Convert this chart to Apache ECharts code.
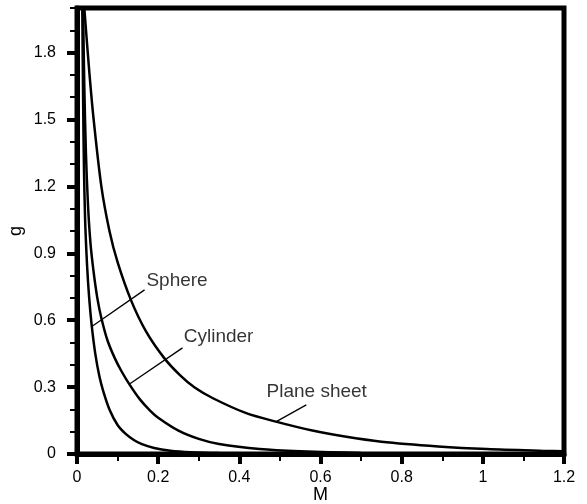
<!DOCTYPE html>
<html>
<head>
<meta charset="utf-8">
<script src="https://cdn.jsdelivr.net/npm/echarts@6/dist/echarts.min.js"></script>
<style>html,body{margin:0;padding:0;background:#fff}#c{width:587px;height:504px}</style>
</head>
<body>
<div id="c"></div>
<script>
// Data
var planeM = [0.018,0.03,0.041,0.06,0.08,0.1,0.133,0.17,0.215,0.253,0.29,0.335,0.417,0.49,0.58,0.66,0.75,0.89,1.01,1.15,1.2];
var planeG = [2.0,1.72,1.5,1.2,1.0,0.86,0.69,0.55,0.43,0.355,0.298,0.25,0.183,0.145,0.105,0.078,0.055,0.034,0.022,0.014,0.012];
var cylM = [0.015,0.018,0.022,0.027,0.033,0.04,0.05,0.06,0.075,0.093,0.11,0.13,0.155,0.18,0.2,0.25,0.3,0.35,0.45,0.55,0.7,0.9,1.2];
var cylG = [2.0,1.65,1.35,1.12,0.95,0.83,0.70,0.61,0.51,0.43,0.37,0.31,0.245,0.195,0.163,0.105,0.068,0.045,0.022,0.012,0.005,0.002,0.0];
var sphM = [0.013,0.015,0.017,0.02,0.025,0.03,0.036,0.045,0.055,0.065,0.08,0.1,0.12,0.14,0.16,0.19,0.23,0.28,0.35,0.5,0.7,1.2];
var sphG = [2.0,1.6,1.3,1.05,0.84,0.70,0.58,0.45,0.35,0.28,0.20,0.13,0.09,0.063,0.044,0.027,0.015,0.008,0.004,0.001,0.0,0.0];

var xTicks = [0,0.2,0.4,0.6,0.8,1,1.2];
var yTicks = [0,0.3,0.6,0.9,1.2,1.5,1.8];
var yMinorTicks = [0.1,0.2,0.4,0.5,0.7,0.8,1.0,1.1,1.3,1.4,1.6,1.7,1.9,2.0];

var labelNames = ['Sphere','Cylinder','Plane sheet'];
var labelM = [0.171,0.263,0.467];
var labelG = [0.777,0.525,0.278];
var leaderFromM = [0.1665,0.26,0.565];
var leaderFromG = [0.736,0.476,0.22];
var leaderToM = [0.0365,0.1295,0.491];
var leaderToG = [0.572,0.314,0.145];

function pairs(xs, ys){ return xs.map(function(x,i){return [x, ys[i]];}); }

var FONT = '"Liberation Sans", Arial, sans-serif';
var series = [];
[[planeM,planeG],[cylM,cylG],[sphM,sphG]].forEach(function(s){
  series.push({type:'line', data:pairs(s[0],s[1]), symbol:'none', smooth:0.3,
    lineStyle:{color:'#000', width:2.5}, clip:true, z:3});
});
for (var i=0;i<labelNames.length;i++){
  series.push({type:'line', data:[[leaderFromM[i],leaderFromG[i]],[leaderToM[i],leaderToG[i]]],
    symbol:'none', lineStyle:{color:'#000', width:1.3}, z:4});
}
series.push({type:'scatter', symbolSize:0, z:5,
  data: labelNames.map(function(n,i){return {name:n, value:[labelM[i],labelG[i]]};}),
  label:{show:true, position:'right', distance:0, formatter:'{b}', color:'#000', fontSize:19, fontFamily:FONT}
});

var chart = echarts.init(document.getElementById('c'), null, {renderer:'canvas'});
chart.setOption({
  animation:false,
  backgroundColor:'#fff',
  grid:{left:77, right:23, top:8, bottom:50, show:true, borderColor:'#000', borderWidth:5,
    containLabel:false, outerBoundsMode:'none'},
  xAxis:[{
    type:'value', min:0, max:1.2, interval:0.2,
    name:'M', nameLocation:'middle', nameGap:32, nameMoveOverlap:false,
    nameTextStyle:{color:'#000', fontSize:18, fontFamily:FONT},
    axisLine:{show:true, onZero:false, lineStyle:{color:'#000', width:5}},
    axisTick:{show:true, inside:false, length:10, lineStyle:{color:'#000', width:4}},
    minorTick:{show:true, splitNumber:2, length:7, lineStyle:{color:'#000', width:2}},
    axisLabel:{color:'#000', fontSize:16, fontFamily:FONT, margin:16,
      customValues: xTicks},
    splitLine:{show:false}
  }],
  yAxis:[{
    type:'value', min:0, max:2.0,
    name:'g', nameLocation:'middle', nameGap:52, nameMoveOverlap:false,
    nameTextStyle:{color:'#000', fontSize:18, fontFamily:FONT},
    axisLine:{show:true, onZero:false, lineStyle:{color:'#000', width:5}},
    axisTick:{show:true, inside:false, length:10, lineStyle:{color:'#000', width:4}, customValues:yTicks},
    axisLabel:{color:'#000', fontSize:16, fontFamily:FONT, margin:21, customValues:yTicks},
    splitLine:{show:false}
  },{
    type:'value', min:0, max:2.0, position:'left',
    axisLine:{show:false},
    axisTick:{show:true, inside:false, length:7, lineStyle:{color:'#000', width:2}, customValues:yMinorTicks},
    axisLabel:{show:false},
    splitLine:{show:false}
  }],
  series: series
});
</script>
</body>
</html>
